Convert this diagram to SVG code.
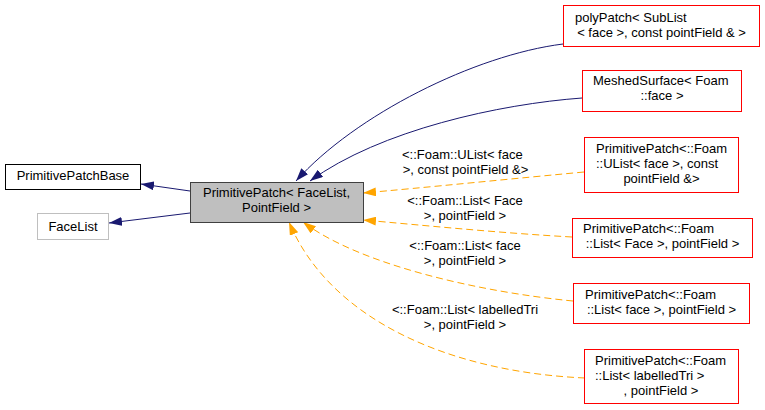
<svg xmlns="http://www.w3.org/2000/svg" width="765" height="410" viewBox="0 0 765 410">
<style>
text{font-family:"Liberation Sans",Arial,Helvetica,sans-serif;font-size:13px;fill:#000}
.m{text-anchor:middle}
.box{fill:#fff;stroke:#000;stroke-width:1}
.red{fill:#fff;stroke:#ff0000;stroke-width:1}
.gray{fill:#fff;stroke:#bfbfbf;stroke-width:1}
.main{fill:#bfbfbf;stroke:#404040;stroke-width:1}
.inh{fill:none;stroke:#191970;stroke-width:1}
.tpl{fill:none;stroke:#ffa500;stroke-width:1;stroke-dasharray:7,4}
</style>
<defs>
<marker id="an" markerUnits="userSpaceOnUse" viewBox="0 0 13 9" markerWidth="13" markerHeight="9" refX="13" refY="4.5" orient="auto"><path d="M0,0L13,4.5L0,9z" fill="#191970"/></marker>
<marker id="ao" markerUnits="userSpaceOnUse" viewBox="0 0 13 9" markerWidth="13" markerHeight="9" refX="13" refY="4.5" orient="auto"><path d="M0,0L13,4.5L0,9z" fill="#ffa500"/></marker>
</defs>
<rect width="765" height="410" fill="#fff"/>
<g id="edges">
<path class="inh" d="M563,44C475,55 355,115 296,181" marker-end="url(#an)"/>
<path class="inh" d="M582,98C500,104 380,130 310,181" marker-end="url(#an)"/>
<path class="inh" d="M190,191L141,184" marker-end="url(#an)"/>
<path class="inh" d="M190,213L109,223" marker-end="url(#an)"/>
<path class="tpl" d="M584,172C520,178 420,188 363,193" marker-end="url(#ao)"/>
<path class="tpl" d="M572,237C500,233 420,225 363,220" marker-end="url(#ao)"/>
<path class="tpl" d="M573,301C480,292 360,265 303,222" marker-end="url(#ao)"/>
<path class="tpl" d="M585,378C450,372 330,320 289,222" marker-end="url(#ao)"/>
<text x="402" y="159">&lt;::Foam::UList&lt; face</text>
<text x="465.5" y="174" class="m">&gt;, const pointField &amp;&gt;</text>
<text x="465" y="205" class="m">&lt;::Foam::List&lt; Face</text>
<text x="465" y="220" class="m">&gt;, pointField &gt;</text>
<text x="465" y="250" class="m">&lt;::Foam::List&lt; face</text>
<text x="465" y="265" class="m">&gt;, pointField &gt;</text>
<text x="465" y="314" class="m">&lt;::Foam::List&lt; labelledTri</text>
<text x="465" y="329" class="m">&gt;, pointField &gt;</text>
</g>
<g id="main">
<rect class="main" x="190.5" y="182.5" width="173" height="40"/>
<text x="276.5" y="197" class="m">PrimitivePatch&lt; FaceList,</text>
<text x="276.5" y="212" class="m">PointField &gt;</text>
</g>
<g id="primitivePatchBase">
<rect class="box" x="5.5" y="164.5" width="135" height="25"/>
<text x="73" y="179.5" class="m">PrimitivePatchBase</text>
</g>
<g id="faceList">
<rect class="gray" x="37.5" y="213.5" width="71" height="26"/>
<text x="73" y="231" class="m">FaceList</text>
</g>
<g id="polyPatch">
<rect class="red" x="563.5" y="5.5" width="196" height="41"/>
<text x="575" y="22">polyPatch&lt; SubList</text>
<text x="661.5" y="36.5" class="m">&lt; face &gt;, const pointField &amp; &gt;</text>
</g>
<g id="meshedSurface">
<rect class="red" x="582.5" y="70.5" width="159" height="41"/>
<text x="593" y="85">MeshedSurface&lt; Foam</text>
<text x="662" y="100" class="m">::face &gt;</text>
</g>
<g id="ppUList">
<rect class="red" x="584.5" y="137.5" width="154" height="55"/>
<text x="596" y="153">PrimitivePatch&lt;::Foam</text>
<text x="596" y="168">::UList&lt; face &gt;, const</text>
<text x="661.5" y="183" class="m">pointField &amp;&gt;</text>
</g>
<g id="ppListFace">
<rect class="red" x="572.5" y="218.5" width="180" height="39"/>
<text x="583" y="233">PrimitivePatch&lt;::Foam</text>
<text x="662.5" y="248" class="m">::List&lt; Face &gt;, pointField &gt;</text>
</g>
<g id="ppListface">
<rect class="red" x="573.5" y="283.5" width="176" height="40"/>
<text x="585" y="298.5">PrimitivePatch&lt;::Foam</text>
<text x="661.5" y="313.5" class="m">::List&lt; face &gt;, pointField &gt;</text>
</g>
<g id="ppListLabelledTri">
<rect class="red" x="584.5" y="349.5" width="154" height="54"/>
<text x="595" y="365">PrimitivePatch&lt;::Foam</text>
<text x="595" y="380">::List&lt; labelledTri &gt;</text>
<text x="661" y="394.5" class="m">, pointField &gt;</text>
</g>
</svg>
